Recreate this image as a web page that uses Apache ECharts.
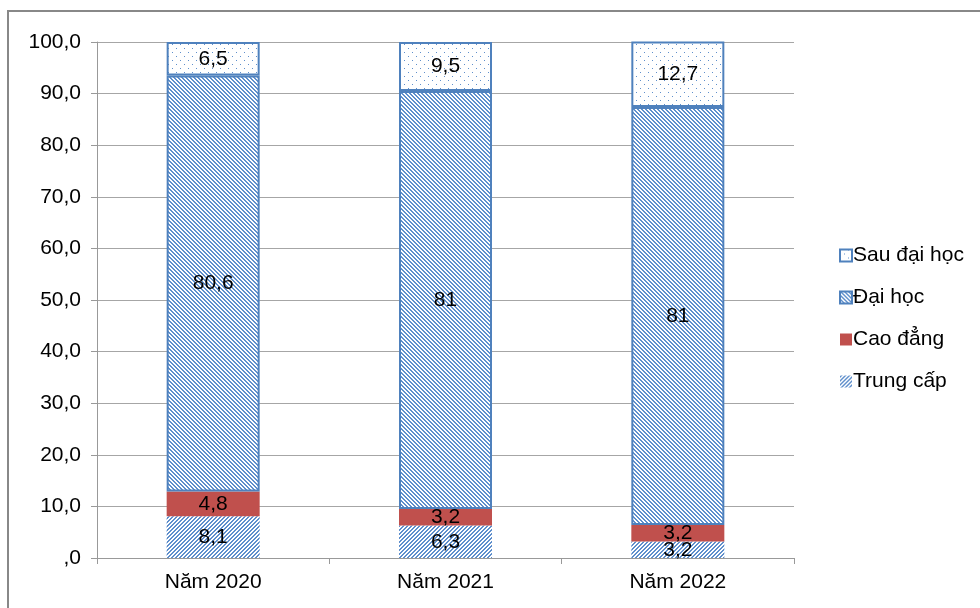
<!DOCTYPE html>
<html>
<head>
<meta charset="utf-8">
<script src="https://cdn.jsdelivr.net/npm/echarts@6/dist/echarts.min.js"></script>
<style>
  html, body {margin: 0; padding: 0; background: #fff;}
  #chart {width: 980px; height: 608px;}
</style>
</head>
<body>
<div id="chart"></div>
<script>
const categories = ['Năm 2020', 'Năm 2021', 'Năm 2022'];
const trungCap = [8.1, 6.3, 3.2];
const caoDang = [4.8, 3.2, 3.2];
const daiHoc = [80.6, 81, 81];
const sauDaiHoc = [6.5, 9.5, 12.7];

const blue = '#4F81BD';
const stripe = '#5F8FCC';
const red = '#C0504D';
const font = 'Liberation Sans, Arial, sans-serif';
const fs = 21;

// little tiles for the hatch fills
const makeTile = (w, h, test) => {
    const c = document.createElement('canvas');
    c.width = w; c.height = h;
    const ctx = c.getContext('2d');
    ctx.fillStyle = '#fff';
    ctx.fillRect(0, 0, w, h);
    ctx.fillStyle = stripe;
    for (let x = 0; x < w; x++) {
        for (let y = 0; y < h; y++) {
            if (test(x, y)) ctx.fillRect(x, y, 1, 1);
        }
    }
    return {image: c, repeat: 'repeat'};
};
const slash = makeTile(4, 4, (x, y) => ((x + y) % 4) < 2);
const backslash = makeTile(4, 4, (x, y) => (((x - y) % 4) + 4) % 4 < 2);
const dots = makeTile(8, 8, (x, y) => (x === 0 && y === 0) || (x === 4 && y === 4));

const fmt = v => String(v).replace('.', ',');
const label = {
    show: true,
    position: 'inside',
    color: '#000',
    fontSize: fs,
    fontFamily: font,
    formatter: p => fmt(p.value)
};

const chart = echarts.init(document.getElementById('chart'));
chart.setOption({
    animation: false,
    textStyle: {fontFamily: font},
    graphic: [{
        type: 'rect',
        shape: {x: 8, y: 11, width: 990, height: 620},
        style: {fill: 'none', stroke: '#888', lineWidth: 2},
        silent: true
    }],
    grid: {left: 97, right: 186, top: 42, bottom: 50},
    legend: {
        orient: 'vertical',
        left: 834,
        top: 240,
        itemWidth: 12,
        itemHeight: 12,
        itemGap: 21,
        icon: 'rect',
        data: ['Sau đại học', 'Đại học', 'Cao đẳng', 'Trung cấp'],
        textStyle: {fontSize: fs, color: '#000', fontFamily: font, padding: [0, 0, 0, -4]}
    },
    xAxis: {
        type: 'category',
        data: categories,
        axisLine: {lineStyle: {color: '#999', width: 1}},
        axisTick: {show: true, length: 6, lineStyle: {color: '#999'}},
        axisLabel: {fontSize: fs, color: '#000', margin: 14, fontFamily: font}
    },
    yAxis: {
        type: 'value',
        min: 0,
        max: 100,
        interval: 10,
        axisLine: {show: true, lineStyle: {color: '#999', width: 1}},
        axisTick: {show: true, length: 6, lineStyle: {color: '#999'}},
        splitLine: {lineStyle: {color: '#A6A6A6', width: 1}},
        axisLabel: {
            fontSize: fs, color: '#000', margin: 16, fontFamily: font,
            formatter: v => v === 0 ? ',0' : v + ',0'
        }
    },
    series: [
        {
            name: 'Trung cấp', type: 'bar', stack: 'a', barWidth: 93,
            data: trungCap, label,
            itemStyle: {color: slash}
        },
        {
            name: 'Cao đẳng', type: 'bar', stack: 'a', barWidth: 93,
            data: caoDang, label,
            itemStyle: {color: red}
        },
        {
            name: 'Đại học', type: 'bar', stack: 'a', barWidth: 93,
            data: daiHoc, label,
            itemStyle: {color: backslash, borderColor: blue, borderWidth: 2}
        },
        {
            name: 'Sau đại học', type: 'bar', stack: 'a', barWidth: 93,
            data: sauDaiHoc, label,
            itemStyle: {color: dots, borderColor: blue, borderWidth: 2}
        }
    ]
});
</script>
</body>
</html>
